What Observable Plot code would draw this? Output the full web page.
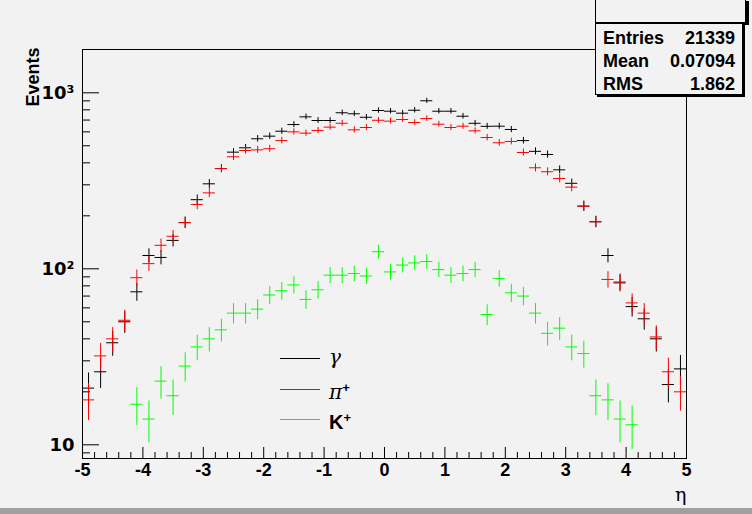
<!DOCTYPE html>
<html><head><meta charset="utf-8">
<script src="https://cdn.jsdelivr.net/npm/d3@7"></script>
<script src="https://cdn.jsdelivr.net/npm/@observablehq/plot@0.6"></script>
<style>
html,body{margin:0;padding:0;background:#f2f2f2;}
#c{position:relative;width:752px;height:514px;background:#f2f2f2;overflow:hidden;font-family:"Liberation Sans",Arial,sans-serif;}
#c svg{position:absolute;left:0;top:0;}
.box{position:absolute;background:#f2f2f2;border:1px solid #000;box-sizing:border-box;}
.row{position:absolute;left:7px;right:7px;font-weight:bold;font-size:18px;line-height:18px;display:flex;justify-content:space-between;color:#000;}
.legt{position:absolute;font-size:20px;line-height:20px;color:#000;}
#bevel{position:absolute;left:0;top:508px;width:752px;height:6px;background:#a0a0a0;}
</style></head><body><div id="c"></div>
<script>
// bin centres (eta), 50 bins of width 0.2
const eta = [-4.9,-4.7,-4.5,-4.3,-4.1,-3.9,-3.7,-3.5,-3.3,-3.1,-2.9,-2.7,-2.5,-2.3,-2.1,-1.9,-1.7,-1.5,-1.3,-1.1,-0.9,-0.7,-0.5,-0.3,-0.1,0.1,0.3,0.5,0.7,0.9,1.1,1.3,1.5,1.7,1.9,2.1,2.3,2.5,2.7,2.9,3.1,3.3,3.5,3.7,3.9,4.1,4.3,4.5,4.7,4.9];
const gammaCounts = [21,26,38,50,74,119,116,145,183,247,304,371,460,487,548,567,605,660,730,696,696,770,760,726,793,786,766,796,901,786,786,736,671,645,646,619,535,465,446,365,306,227,185,119,84,61,52,40,22,27];
const piCounts = [18,32,40,51,89,107,136,153,183,232,270,371,433,470,474,481,535,600,590,611,638,671,616,635,698,690,705,678,714,663,635,646,608,557,520,529,458,375,356,326,291,227,185,87,83,64,56,41,26,20];
const kaonCounts = [null,null,null,null,17,14,23,19,28,36,40,45,56,56,59,71,75,81,67,76,92,92,94,91,125,96,105,108,110,99,92,94,99,55,88,73,70,56,43,46,36,33,19,18,14,13,null,null,null,null];
const seriesNames = ["γ","π","K"];
const seriesSup = ["","+","+"];
const yMajorTicks = [10,100,1000];
const yTickLabels = ["10","10²","10³"];
const yMinorTicks = [9,20,30,40,50,60,70,80,90,200,300,400,500,600,700,800,900];
const xMajorTicks = [-5,-4,-3,-2,-1,0,1,2,3,4,5];
const xMinorTicks = [-4.8,-4.6,-4.4,-4.2,-3.8,-3.6,-3.4,-3.2,-2.8,-2.6,-2.4,-2.2,-1.8,-1.6,-1.4,-1.2,-0.8,-0.6,-0.4,-0.2,0.2,0.4,0.6,0.8,1.2,1.4,1.6,1.8,2.2,2.4,2.6,2.8,3.2,3.4,3.6,3.8,4.2,4.4,4.6,4.8];
const statsLabels = ["Entries","Mean","RMS"];
const statsValues = ["21339","0.07094","1.862"];
const xLabel = "η";
const yLabel = "Events";

const colors = ["#000000","#ff0000","#00ff00"];
const W = 752, H = 514, mL = 82, mR = 66, mT = 49, mB = 56;
const fw = W - mL - mR, fh = H - mT - mB;
const binHalf = 0.1;

function crosses(counts, color) {
  const rows = eta.map((x, i) => ({x, v: counts[i]})).filter(d => d.v != null);
  return [
    Plot.ruleY(rows, {y: "v", x1: d => d.x - binHalf, x2: d => d.x + binHalf, stroke: color, strokeWidth: 1, clip: true}),
    Plot.ruleX(rows, {x: "x", y1: d => d.v - Math.sqrt(d.v), y2: d => d.v + Math.sqrt(d.v), stroke: color, strokeWidth: 1, clip: true})
  ];
}

const plot = Plot.plot({
  width: W, height: H,
  marginLeft: mL, marginRight: mR, marginTop: mT, marginBottom: mB,
  style: {background: "transparent", fontFamily: "'Liberation Sans', Arial, sans-serif", color: "#000"},
  x: {domain: [-5, 5]},
  y: {type: "log", domain: [8.36, 1762]},
  marks: [
    Plot.frame({stroke: "#000"}),
    Plot.tickY(yMajorTicks, {y: d => d, insetRight: fw - 17, stroke: "#000"}),
    Plot.tickY(yMinorTicks, {y: d => d, insetRight: fw - 8, stroke: "#000"}),
    Plot.tickX(xMajorTicks, {x: d => d, insetTop: fh - 11, stroke: "#000"}),
    Plot.tickX(xMinorTicks, {x: d => d, insetTop: fh - 6, stroke: "#000"}),
    Plot.axisY(yMajorTicks, {tickSize: 0, tickPadding: 8, tickFormat: d => yTickLabels[yMajorTicks.indexOf(d)], fontSize: 18, fontWeight: "bold", fontFamily: "'DejaVu Sans', sans-serif", label: null}),
    Plot.axisX(xMajorTicks, {tickSize: 0, tickPadding: 5, tickFormat: d => String(d), fontSize: 18, fontWeight: "bold", label: null}),
    Plot.text([yLabel], {frameAnchor: "top-left", dx: -49, dy: -2, rotate: -90, textAnchor: "end", lineAnchor: "middle", fontSize: 18, fontWeight: "bold"}),
    Plot.text([xLabel], {frameAnchor: "bottom-right", dy: 36, dx: 0, textAnchor: "end", lineAnchor: "middle", fontSize: 19, fontFamily: "'DejaVu Serif', serif"}),
    ...crosses(gammaCounts, colors[0]),
    ...crosses(piCounts, colors[1]),
    ...crosses(kaonCounts, colors[2])
  ]
});

const c = document.getElementById("c");
c.appendChild(plot);

// legend
const legY = [358, 389, 419];
const ns = "http://www.w3.org/2000/svg";
const legSvg = document.createElementNS(ns, "svg");
legSvg.setAttribute("width", W); legSvg.setAttribute("height", H);
legSvg.style.pointerEvents = "none";
seriesNames.forEach((name, i) => {
  const ln = document.createElementNS(ns, "line");
  ln.setAttribute("x1", 280); ln.setAttribute("x2", 320);
  ln.setAttribute("y1", legY[i] + 0.5); ln.setAttribute("y2", legY[i] + 0.5);
  ln.setAttribute("stroke", colors[i]); ln.setAttribute("stroke-width", 1);
  legSvg.appendChild(ln);
});
c.appendChild(legSvg);
seriesNames.forEach((name, i) => {
  const t = document.createElement("div");
  t.className = "legt";
  t.style.left = "329px"; t.style.top = (legY[i] - 11) + "px";
  if (i < 2) { t.style.fontFamily = "'DejaVu Serif', serif"; t.style.fontStyle = "italic"; }
  else { t.style.fontWeight = "bold"; }
  t.textContent = name;
  if (seriesSup[i]) {
    const s = document.createElement("sup");
    s.textContent = seriesSup[i];
    s.style.fontSize = "13px"; s.style.fontWeight = "bold"; s.style.fontStyle = "normal";
    s.style.fontFamily = "'Liberation Sans', Arial, sans-serif";
    s.style.verticalAlign = "7px";
    t.appendChild(s);
  }
  c.appendChild(t);
});

// stats box
const title = document.createElement("div");
title.className = "box";
Object.assign(title.style, {left: "595px", top: "-1px", width: "151px", height: "24px", boxShadow: "3px 2px 0 #000"});
c.appendChild(title);
const stats = document.createElement("div");
stats.className = "box";
Object.assign(stats.style, {left: "595px", top: "23px", width: "148px", height: "72px", boxShadow: "2px 2px 0 #000"});
statsLabels.forEach((lab, i) => {
  const r = document.createElement("div");
  r.className = "row";
  r.style.top = (5 + i * 23) + "px";
  const a = document.createElement("span"); a.textContent = lab;
  const b = document.createElement("span"); b.textContent = statsValues[i];
  r.appendChild(a); r.appendChild(b);
  stats.appendChild(r);
});
c.appendChild(stats);

const bev = document.createElement("div");
bev.id = "bevel";
c.appendChild(bev);
</script>
</body></html>
